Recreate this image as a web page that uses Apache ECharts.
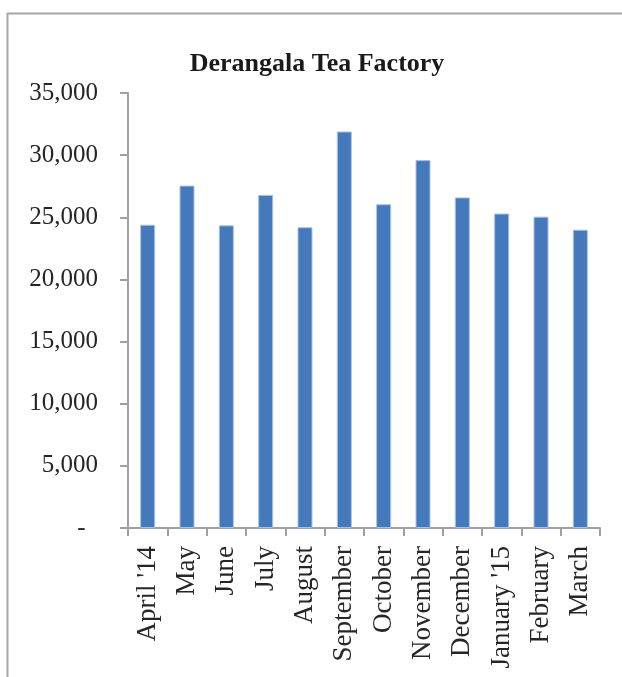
<!DOCTYPE html>
<html>
<head>
<meta charset="utf-8">
<script src="https://cdn.jsdelivr.net/npm/echarts@6/dist/echarts.min.js"></script>
<style>
html,body{margin:0;padding:0;background:#fff;}
#chart{width:622px;height:677px;}
</style>
</head>
<body>
<div id="chart"></div>
<script>
var categories = ["April '14", "May", "June", "July", "August", "September", "October", "November", "December", "January '15", "February", "March"];
var production = [24400, 27550, 24350, 26800, 24200, 31900, 26050, 29600, 26600, 25300, 25050, 24000];
var yTicks = [0, 5000, 10000, 15000, 20000, 25000, 30000, 35000];
var titleText = "Derangala Tea Factory";

var FONT = "'Liberation Serif', 'DejaVu Serif', serif";
var chart = echarts.init(document.getElementById('chart'), null, {renderer: 'canvas'});
function fmt(v) {
  if (v === 0) return '-  ';
  return v.toString().replace(/\B(?=(\d{3})+(?!\d))/g, ',');
}
chart.setOption({
  animation: false,
  backgroundColor: '#ffffff',
  title: {
    text: titleText,
    left: 312,
    textAlign: 'center',
    top: 46,
    textStyle: {fontFamily: FONT, fontWeight: 'bold', fontSize: 26, color: '#1a1a1a'}
  },
  graphic: [
    {type: 'line', shape: {x1: 7.5, y1: 13, x2: 7.5, y2: 677}, style: {stroke: '#a6a6a6', lineWidth: 2}, silent: true},
    {type: 'line', shape: {x1: 7, y1: 13.5, x2: 622, y2: 13.5}, style: {stroke: '#a6a6a6', lineWidth: 2}, silent: true}
  ],
  grid: {left: 128, right: 22, top: 93, bottom: 149, containLabel: false},
  xAxis: {
    type: 'category',
    data: categories,
    axisLine: {lineStyle: {color: '#a0a0a0', width: 2}},
    axisTick: {show: true, alignWithLabel: false, length: 8, lineStyle: {color: '#a0a0a0', width: 2}},
    axisLabel: {rotate: 90, margin: 18, interval: 0, fontFamily: FONT, fontSize: 27, color: '#262626'}
  },
  yAxis: {
    type: 'value',
    min: yTicks[0],
    max: yTicks[yTicks.length - 1],
    interval: yTicks[1] - yTicks[0],
    axisLine: {show: true, lineStyle: {color: '#a0a0a0', width: 2}},
    axisTick: {show: true, length: 8, lineStyle: {color: '#a0a0a0', width: 2}},
    splitLine: {show: false},
    axisLabel: {margin: 30, fontFamily: FONT, fontSize: 25, color: '#262626', formatter: fmt}
  },
  series: [{
    type: 'bar',
    data: production,
    barWidth: 15,
    itemStyle: {color: '#4479bb', borderColor: '#a8c0e0', borderWidth: 1}
  }]
});
</script>
</body>
</html>
